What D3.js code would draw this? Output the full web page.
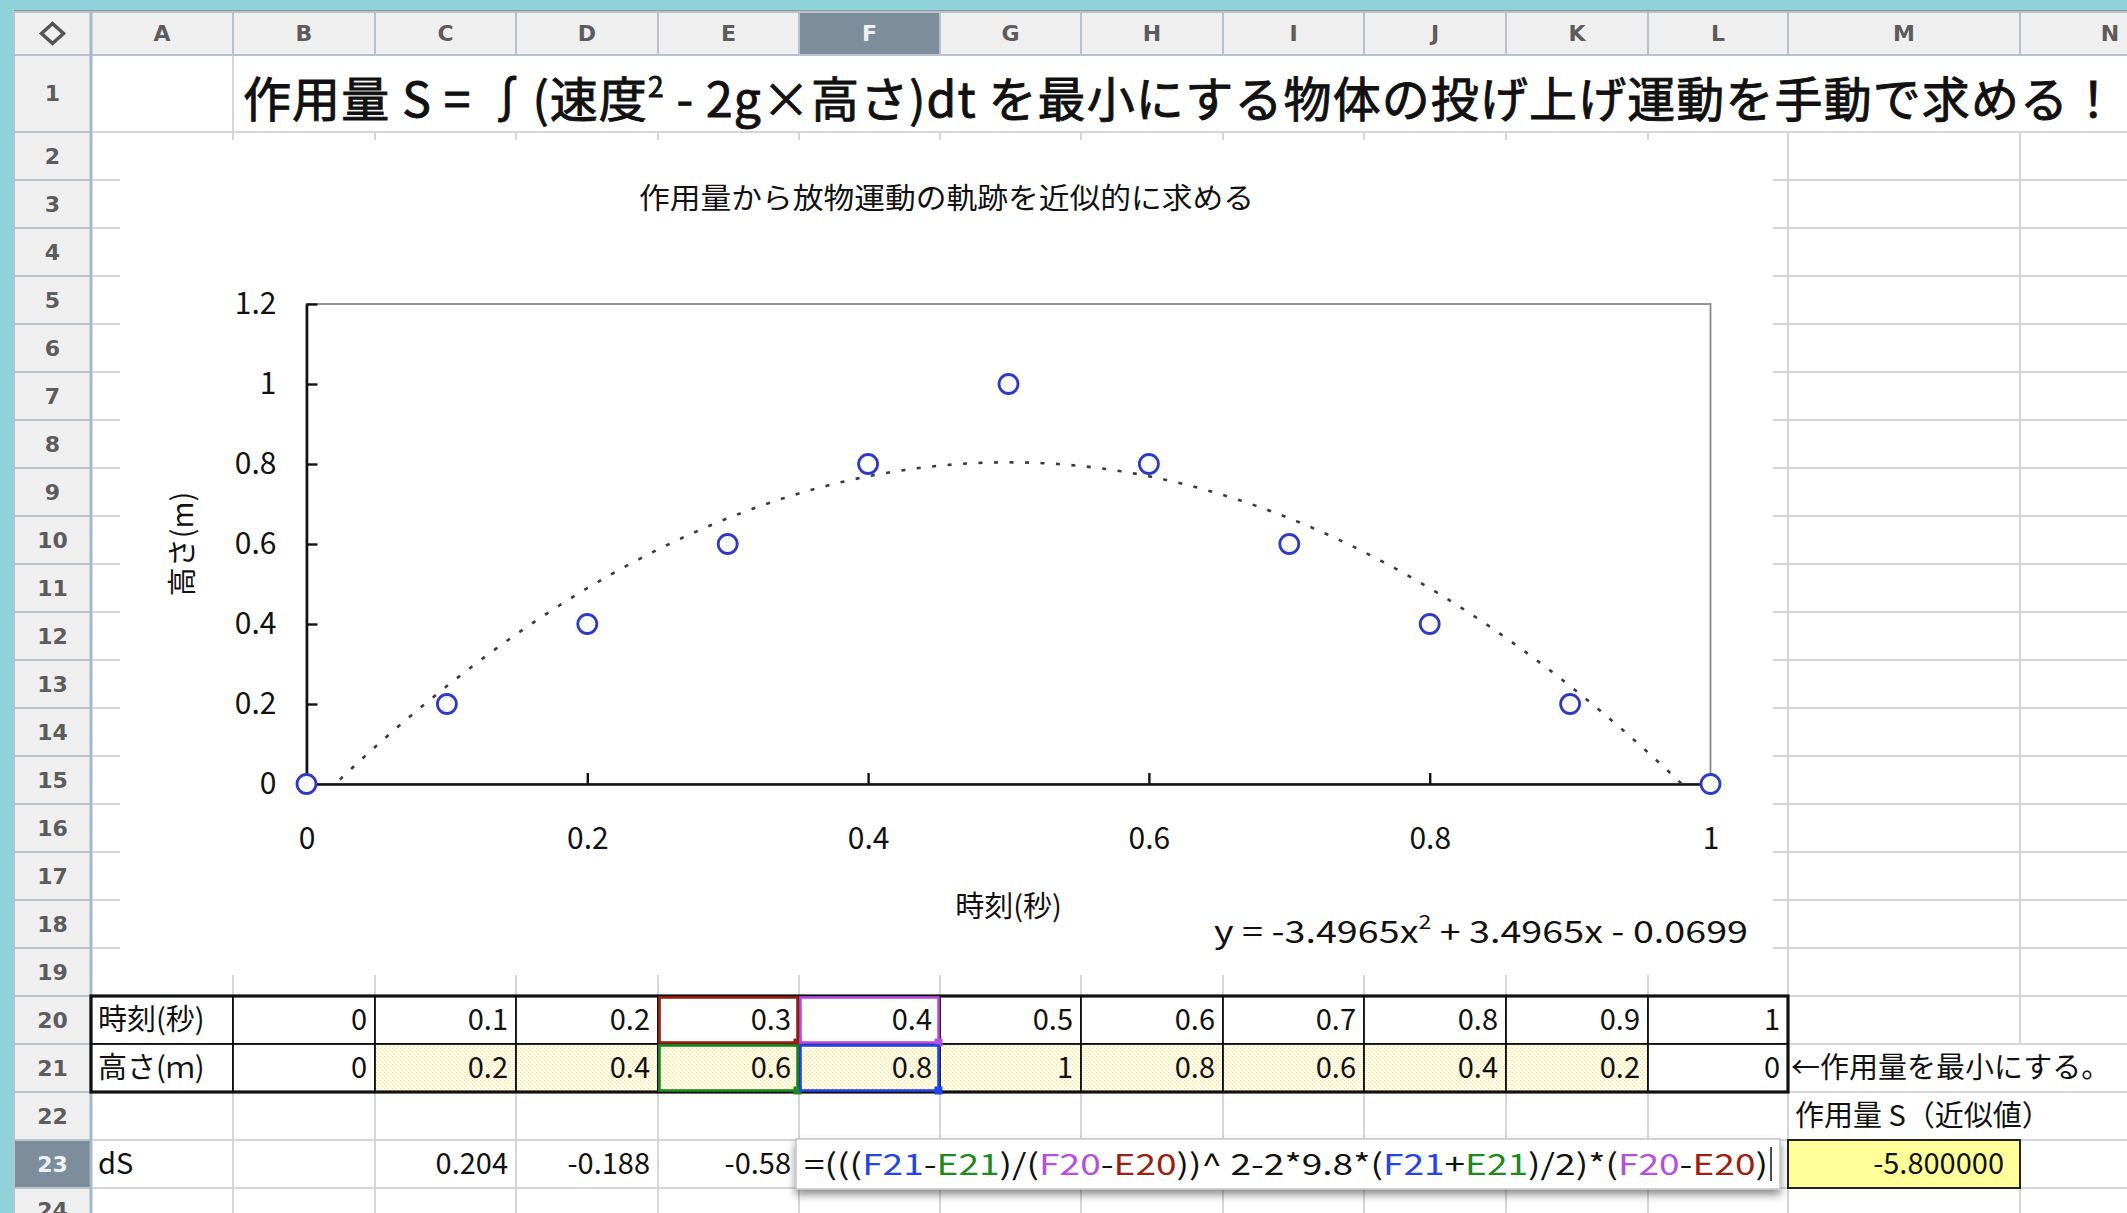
<!DOCTYPE html>
<html>
<head>
<meta charset="utf-8">
<script src="https://cdn.jsdelivr.net/npm/d3@7"></script>
<style>
  html, body { margin: 0; padding: 0; background: #ffffff; overflow: hidden; }
  svg { display: block; }
</style>
</head>
<body>
<svg id="sheet" width="2127" height="1213"></svg>
<script>
// ---------------- data ----------------
const colLetters = ["A", "B", "C", "D", "E", "F", "G", "H", "I", "J", "K", "L", "M", "N"];
const times   = [0, 0.1, 0.2, 0.3, 0.4, 0.5, 0.6, 0.7, 0.8, 0.9, 1];
const heights = [0, 0.2, 0.4, 0.6, 0.8, 1, 0.8, 0.6, 0.4, 0.2, 0];
const trendCoef = [-3.4965, 3.4965, -0.0699];       // y = a x^2 + b x + c
const xTicks = [0, 0.2, 0.4, 0.6, 0.8, 1];
const yTicks = [0, 0.2, 0.4, 0.6, 0.8, 1, 1.2];
const dSValues = [0.204, -0.188, -0.58];            // C23:E23
const actionTotal = [-5.8];                         // M23
const rowLabels = ["時刻(秒)", "高さ(ｍ)"];
const chartTitle = "作用量から放物運動の軌跡を近似的に求める";
const xAxisTitle = "時刻(秒)";
const yAxisTitle = "高さ(m)";

// ---------------- sheet geometry ----------------
const FONT = "'Noto Sans CJK JP','Noto Sans',sans-serif";
const HEAD_FONT = "'DejaVu Sans','Liberation Sans',sans-serif";
const colEdges = [14, 91, 233, 375, 516, 658, 799, 940, 1081, 1223, 1364, 1506, 1648, 1788, 2020, 2200];
const cellL = i => colEdges[i + 1];
const cellR = i => colEdges[i + 2];
const rowTop = r => r === 0 ? 12 : r === 1 ? 55 : 132 + (r - 2) * 48;
const rowBot = r => rowTop(r + 1);
const rowMid = r => (rowTop(r) + rowBot(r)) / 2;
const lastRow = 24;
const W = 2127, H = 1213;
const grid = "#d6d6d6";

const svg = d3.select("#sheet");
const defs = svg.append("defs");

const pat = defs.append("pattern").attr("id", "cream").attr("width", 4).attr("height", 4)
  .attr("patternUnits", "userSpaceOnUse");
pat.append("rect").attr("width", 4).attr("height", 4).attr("fill", "#fffbe2");
pat.append("rect").attr("x", 0).attr("y", 0).attr("width", 1).attr("height", 1).attr("fill", "#eee2ac");
pat.append("rect").attr("x", 2).attr("y", 2).attr("width", 1).attr("height", 1).attr("fill", "#eee2ac");

const shadow = defs.append("filter").attr("id", "popShadow")
  .attr("x", "-5%").attr("y", "-30%").attr("width", "110%").attr("height", "190%");
shadow.append("feDropShadow").attr("dx", 0).attr("dy", 5).attr("stdDeviation", 4)
  .attr("flood-color", "#000").attr("flood-opacity", 0.45);

// window background
svg.append("rect").attr("width", W).attr("height", H).attr("fill", "#8fd2d9");
svg.append("rect").attr("x", colEdges[1]).attr("y", rowTop(1)).attr("width", W).attr("height", H)
  .attr("fill", "#ffffff");

// ---------------- gridlines ----------------
const gridG = svg.append("g");
for (let r = 1; r <= lastRow; r++) {
  gridG.append("line").attr("x1", colEdges[1]).attr("x2", W)
    .attr("y1", rowBot(r)).attr("y2", rowBot(r)).attr("stroke", grid).attr("stroke-width", 2);
}
// vertical segments, hidden where cell text runs over the boundary
const hidden = (x, r) => (r === 1 && x > 240) || ((r === 21 || r === 22) && x === 2020);
for (let k = 2; k < colEdges.length - 1; k++) {
  const xv = colEdges[k];
  for (let r = 1; r <= lastRow; r++) {
    if (hidden(xv, r)) continue;
    gridG.append("line").attr("x1", xv).attr("x2", xv)
      .attr("y1", rowTop(r)).attr("y2", rowBot(r)).attr("stroke", grid).attr("stroke-width", 2);
  }
}

// ---------------- headers ----------------
const hdr = svg.append("g");
hdr.append("rect").attr("x", colEdges[0]).attr("y", 10).attr("width", W).attr("height", 2.5).attr("fill", "#8e969c");
colLetters.forEach((c, i) => {
  const sel = c === "F";
  hdr.append("rect").attr("x", cellL(i)).attr("y", rowTop(0)).attr("width", cellR(i) - cellL(i))
    .attr("height", rowBot(0) - rowTop(0)).attr("fill", sel ? "#7d8d9b" : "#efefef")
    .attr("stroke", "#b6c2cd").attr("stroke-width", 2);
  hdr.append("text").attr("x", (cellL(i) + cellR(i)) / 2).attr("y", rowMid(0)).attr("dy", "0.36em")
    .attr("text-anchor", "middle").attr("font-family", HEAD_FONT).attr("font-weight", "bold")
    .attr("font-size", 22).attr("fill", sel ? "#eef2f5" : "#5c5c5c").text(c);
});
// corner
hdr.append("rect").attr("x", colEdges[0]).attr("y", rowTop(0)).attr("width", colEdges[1] - colEdges[0])
  .attr("height", rowBot(0) - rowTop(0)).attr("fill", "#efefef").attr("stroke", "#b6c2cd").attr("stroke-width", 2);
const cxm = (colEdges[0] + colEdges[1]) / 2, cym = rowMid(0);
hdr.append("path").attr("d", `M${cxm},${cym - 10}L${cxm + 11},${cym}L${cxm},${cym + 10}L${cxm - 11},${cym}Z`)
  .attr("fill", "none").attr("stroke", "#555").attr("stroke-width", 3.5);
// row numbers
for (let r = 1; r <= lastRow; r++) {
  const sel = r === 23;
  hdr.append("rect").attr("x", colEdges[0]).attr("y", rowTop(r)).attr("width", colEdges[1] - colEdges[0])
    .attr("height", rowBot(r) - rowTop(r)).attr("fill", sel ? "#7d8d9b" : "#efefef")
    .attr("stroke", "#b6c2cd").attr("stroke-width", 2);
  hdr.append("text").attr("x", cxm).attr("y", r === lastRow ? rowTop(r) + 22 : rowMid(r)).attr("dy", "0.36em")
    .attr("text-anchor", "middle").attr("font-family", HEAD_FONT).attr("font-weight", "bold")
    .attr("font-size", 22).attr("fill", sel ? "#eef2f5" : "#5c5c5c").text(r);
}
hdr.append("line").attr("x1", colEdges[1]).attr("x2", colEdges[1]).attr("y1", rowTop(0)).attr("y2", H)
  .attr("stroke", "#a9b8c6").attr("stroke-width", 3);

// ---------------- sheet title (row 1) ----------------
const title = svg.append("text").attr("x", 243).attr("y", 117)
  .attr("font-family", FONT).attr("font-size", 48).attr("fill", "#111")
  .attr("stroke", "#111").attr("stroke-width", 0.9).attr("letter-spacing", 1.1);
title.append("tspan").text("作用量 S = ∫(速度");
title.append("tspan").attr("font-size", 28).attr("dy", -20).text("2");
title.append("tspan").attr("dy", 20).text(" - 2g×高さ)dt を最小にする物体の投げ上げ運動を手動で求める！");

// ---------------- chart ----------------
const chartBox = { x: 120, y: 140, w: 1653, h: 835 };
const chart = svg.append("g");
chart.append("rect").attr("x", chartBox.x).attr("y", chartBox.y).attr("width", chartBox.w)
  .attr("height", chartBox.h).attr("fill", "#ffffff");

const x = d3.scaleLinear().domain([0, 1]).range([306.5, 1710.5]);
const y = d3.scaleLinear().domain([0, 1.2]).range([784, 304]);

chart.append("text").attr("x", chartBox.x + chartBox.w / 2).attr("y", 199).attr("dy", "0.35em")
  .attr("text-anchor", "middle").attr("font-family", FONT).attr("font-size", 29).attr("fill", "#111")
  .attr("textLength", 615).attr("lengthAdjust", "spacingAndGlyphs").text(chartTitle);

// plot border (top and right in grey)
chart.append("rect").attr("x", x(0)).attr("y", y(1.2)).attr("width", x(1) - x(0))
  .attr("height", y(0) - y(1.2)).attr("fill", "none").attr("stroke", "#8a8a8a").attr("stroke-width", 1.8);

const fmt = d3.format("~g");
const yAxis = chart.append("g").attr("transform", `translate(${x(0)},0)`)
  .call(d3.axisLeft(y).tickValues(yTicks).tickSize(-11).tickSizeOuter(0).tickPadding(30).tickFormat(fmt));
const xAxis = chart.append("g").attr("transform", `translate(0,${y(0)})`)
  .call(d3.axisBottom(x).tickValues(xTicks).tickSize(-11).tickSizeOuter(0).tickPadding(44).tickFormat(fmt));
[yAxis, xAxis].forEach(g => {
  g.attr("font-family", FONT).attr("font-size", 30);
  g.select(".domain").attr("stroke", "#111").attr("stroke-width", 2.6);
  g.selectAll(".tick line").attr("stroke", "#111").attr("stroke-width", 2.4);
  g.selectAll(".tick text").attr("fill", "#111");
});

chart.append("text").attr("x", (x(0) + x(1)) / 2).attr("y", 907).attr("dy", "0.35em")
  .attr("text-anchor", "middle").attr("font-family", FONT).attr("font-size", 29).attr("fill", "#111")
  .text(xAxisTitle);
chart.append("text").attr("transform", `translate(183,${(y(0) + y(1.2)) / 2}) rotate(-90)`)
  .attr("dy", "0.35em").attr("text-anchor", "middle").attr("font-family", FONT).attr("font-size", 29)
  .attr("fill", "#111").text(yAxisTitle);

// polynomial trendline (dotted), clipped to the plot area
defs.append("clipPath").attr("id", "plotClip").append("rect")
  .attr("x", x(0)).attr("y", y(1.2)).attr("width", x(1) - x(0)).attr("height", y(0) - y(1.2));
const poly = t => trendCoef[0] * t * t + trendCoef[1] * t + trendCoef[2];
const xs = d3.range(0, 201).map(i => i / 200);
chart.append("path").attr("clip-path", "url(#plotClip)")
  .attr("d", d3.line().x(t => x(t)).y(t => y(poly(t)))(xs))
  .attr("fill", "none").attr("stroke", "#3a3a3a").attr("stroke-width", 2.6)
  .attr("stroke-dasharray", "4 11.5");

// observed points
chart.append("g").selectAll("circle").data(times.map((t, i) => [t, heights[i]])).join("circle")
  .attr("cx", d => x(d[0])).attr("cy", d => y(d[1])).attr("r", 9.5)
  .attr("fill", "#ffffff").attr("stroke", "#2b3cc2").attr("stroke-width", 2.8);

// trendline equation label
const num = v => Math.abs(v).toFixed(4);
const eq = chart.append("text").attr("x", 1748).attr("y", 943).attr("text-anchor", "end")
  .attr("font-family", FONT).attr("font-size", 31).attr("fill", "#111")
  .attr("textLength", 534).attr("lengthAdjust", "spacingAndGlyphs");
eq.append("tspan").text(`y = ${trendCoef[0] < 0 ? "-" : ""}${num(trendCoef[0])}x`);
eq.append("tspan").attr("font-size", 19).attr("dy", -14).text("2");
eq.append("tspan").attr("dy", 14)
  .text(` ${trendCoef[1] < 0 ? "-" : "+"} ${num(trendCoef[1])}x ${trendCoef[2] < 0 ? "-" : "+"} ${num(trendCoef[2])}`);

// ---------------- data table (rows 20-21) ----------------
const table = svg.append("g");
const tblL = cellL(0), tblR = cellR(11), tblT = rowTop(20), tblB = rowBot(21);
[20, 21].forEach((r, ri) => {
  for (let c = 0; c <= 11; c++) {
    const cream = ri === 1 && c >= 2 && c <= 10;
    table.append("rect").attr("x", cellL(c)).attr("y", rowTop(r)).attr("width", cellR(c) - cellL(c))
      .attr("height", rowBot(r) - rowTop(r)).attr("fill", cream ? "url(#cream)" : "#ffffff")
      .attr("stroke", "#111").attr("stroke-width", 1.8);
  }
  table.append("text").attr("x", cellL(0) + 7).attr("y", rowMid(r)).attr("dy", "0.36em")
    .attr("font-family", FONT).attr("font-size", 29).attr("fill", "#111").text(rowLabels[ri]);
  const vals = ri === 0 ? times : heights;
  vals.forEach((v, i) => {
    table.append("text").attr("x", cellR(i + 1) - 8).attr("y", rowMid(r)).attr("dy", "0.36em")
      .attr("text-anchor", "end").attr("font-family", FONT).attr("font-size", 29).attr("fill", "#111")
      .text(String(v));
  });
});
table.append("rect").attr("x", tblL).attr("y", tblT).attr("width", tblR - tblL).attr("height", tblB - tblT)
  .attr("fill", "none").attr("stroke", "#111").attr("stroke-width", 3.2);

// formula reference highlights
const refBoxes = [
  { c: 4, r: 20, col: "#9c1f10" },
  { c: 5, r: 20, col: "#b64ee0" },
  { c: 4, r: 21, col: "#1c8a1c" },
  { c: 5, r: 21, col: "#2244ea" }
];
refBoxes.forEach(b => {
  const x0 = cellL(b.c) + 1.5, y0 = rowTop(b.r) + 1.5;
  const w = cellR(b.c) - cellL(b.c) - 3, h = rowBot(b.r) - rowTop(b.r) - 3;
  table.append("rect").attr("x", x0).attr("y", y0).attr("width", w).attr("height", h)
    .attr("fill", "none").attr("stroke", b.col).attr("stroke-width", 2.6);
  table.append("rect").attr("x", x0 + w - 4).attr("y", y0 + h - 4).attr("width", 8).attr("height", 8)
    .attr("fill", b.col);
});

// notes to the right of the table
svg.append("text").attr("x", cellL(12) + 3).attr("y", rowMid(21)).attr("dy", "0.36em")
  .attr("font-family", FONT).attr("font-size", 29).attr("fill", "#111").text("←作用量を最小にする。");
svg.append("text").attr("x", cellL(12) + 7).attr("y", rowMid(22)).attr("dy", "0.36em")
  .attr("font-family", FONT).attr("font-size", 29).attr("fill", "#111").text("作用量 S（近似値）");

// ---------------- row 23 ----------------
svg.append("text").attr("x", cellL(0) + 7).attr("y", rowMid(23)).attr("dy", "0.36em")
  .attr("font-family", FONT).attr("font-size", 29).attr("fill", "#111").text("dS");
dSValues.forEach((v, i) => {
  svg.append("text").attr("x", cellR(2 + i) - 8).attr("y", rowMid(23)).attr("dy", "0.36em")
    .attr("text-anchor", "end").attr("font-family", FONT).attr("font-size", 29).attr("fill", "#111")
    .text(String(v));
});

// total action cell
svg.append("rect").attr("x", cellL(12)).attr("y", rowTop(23)).attr("width", cellR(12) - cellL(12))
  .attr("height", rowBot(23) - rowTop(23)).attr("fill", "#ffff99").attr("stroke", "#222").attr("stroke-width", 2);
svg.append("text").attr("x", cellR(12) - 16).attr("y", rowMid(23)).attr("dy", "0.36em")
  .attr("text-anchor", "end").attr("font-family", FONT).attr("font-size", 29).attr("fill", "#111")
  .text(d3.format(".6f")(actionTotal[0]).replace("\u2212", "-"));

// in-cell formula editor over F23
const edX = cellL(5) - 3, edY = rowTop(23) - 1, edW = cellR(11) - 8 - edX, edH = 50;
svg.append("rect").attr("x", edX).attr("y", edY).attr("width", edW).attr("height", edH)
  .attr("fill", "#ffffff").attr("stroke", "#c4c4c4").attr("stroke-width", 1.5)
  .attr("filter", "url(#popShadow)");
const K = "#111", BLU = "#2244ea", GRN = "#1c8a1c", PUR = "#b64ee0", RED = "#9c1f10";
const formulaParts = [
  ["=(((", K], ["F21", BLU], ["-", K], ["E21", GRN], [")/(", K], ["F20", PUR], ["-", K], ["E20", RED],
  ["))^ 2-2*9.8*(", K], ["F21", BLU], ["+", K], ["E21", GRN], [")/2)*(", K], ["F20", PUR], ["-", K],
  ["E20", RED], [")", K]
];
const ft = svg.append("text").attr("x", edX + 8).attr("y", rowMid(23) + 1).attr("dy", "0.36em")
  .attr("font-family", FONT).attr("font-size", 29)
  .attr("textLength", 964).attr("lengthAdjust", "spacingAndGlyphs");
formulaParts.forEach(p => ft.append("tspan").attr("fill", p[1]).text(p[0]));
svg.append("line").attr("x1", edX + 975).attr("x2", edX + 975).attr("y1", edY + 8).attr("y2", edY + 42)
  .attr("stroke", "#111").attr("stroke-width", 1.5);
</script>
</body>
</html>
